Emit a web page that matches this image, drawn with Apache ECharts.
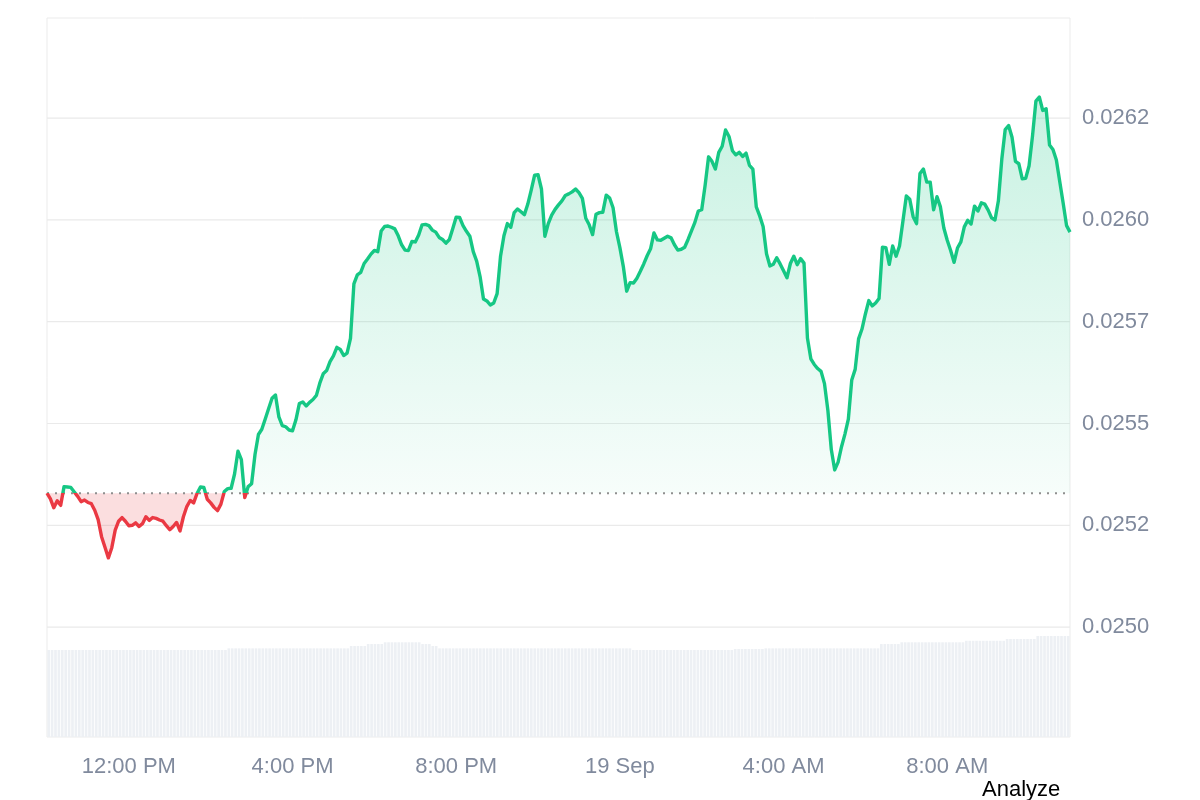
<!DOCTYPE html>
<html>
<head>
<meta charset="utf-8">
<script src="https://cdn.jsdelivr.net/npm/echarts@6/dist/echarts.min.js"></script>
<style>
  html, body { margin: 0; padding: 0; background: #ffffff; }
  #chart { width: 1200px; height: 800px; }
</style>
</head>
<body>
<div id="chart"></div>
<script>
// ---- data (5-minute steps, 18 Sep 10:00 -> 19 Sep 11:00) ----
const startMinutes = 600;
const stepMinutes = 5;

const prices = [
  0.025329,0.025315,0.025293,0.025310,0.025299,0.025345,0.025344,0.025343,0.025332,0.025321,
  0.025308,0.025312,0.025306,0.025303,0.025287,0.025264,0.025222,0.025196,0.025170,0.025195,
  0.025238,0.025260,0.025269,0.025260,0.025249,0.025250,0.025256,0.025247,0.025254,0.025271,
  0.025262,0.025269,0.025267,0.025263,0.025260,0.025249,0.025239,0.025247,0.025257,0.025236,
  0.025271,0.025296,0.025311,0.025305,0.025328,0.025344,0.025343,0.025314,0.025305,0.025294,
  0.025286,0.025302,0.025333,0.025340,0.025341,0.025376,0.025432,0.025411,0.025318,0.025345,
  0.025352,0.025424,0.025473,0.025486,0.025511,0.025537,0.025562,0.025570,0.025516,0.025495,
  0.025492,0.025484,0.025482,0.025509,0.025549,0.025553,0.025543,0.025552,0.025559,0.025569,
  0.025599,0.025622,0.025630,0.025652,0.025666,0.025687,0.025682,0.025667,0.025673,0.025709,
  0.025843,0.025865,0.025871,0.025893,0.025904,0.025916,0.025925,0.025922,0.025973,0.025984,
  0.025985,0.025982,0.025978,0.025961,0.025939,0.025926,0.025925,0.025947,0.025946,0.025963,
  0.025988,0.025989,0.025986,0.025975,0.025970,0.025957,0.025952,0.025943,0.025952,0.025979,
  0.026007,0.026006,0.025986,0.025972,0.025960,0.025922,0.025899,0.025861,0.025806,0.025801,
  0.025791,0.025796,0.025819,0.025911,0.025961,0.025991,0.025982,0.026018,0.026027,0.026020,
  0.026013,0.026039,0.026073,0.026110,0.026111,0.026076,0.025960,0.025991,0.026012,0.026026,
  0.026037,0.026047,0.026060,0.026064,0.026069,0.026076,0.026067,0.026053,0.026004,0.025988,
  0.025964,0.026014,0.026018,0.026019,0.026061,0.026054,0.026030,0.025971,0.025932,0.025886,
  0.025825,0.025846,0.025845,0.025857,0.025874,0.025892,0.025912,0.025929,0.025968,0.025951,
  0.025950,0.025955,0.025960,0.025956,0.025939,0.025926,0.025928,0.025933,0.025952,0.025973,
  0.025994,0.026022,0.026025,0.026085,0.026155,0.026144,0.026125,0.026166,0.026181,0.026221,
  0.026205,0.026170,0.026160,0.026166,0.026156,0.026164,0.026134,0.026125,0.026032,0.026010,
  0.025984,0.025917,0.025887,0.025891,0.025907,0.025892,0.025875,0.025858,0.025893,0.025911,
  0.025890,0.025905,0.025894,0.025710,0.025659,0.025645,0.025635,0.025628,0.025598,0.025532,
  0.025436,0.025386,0.025405,0.025443,0.025474,0.025511,0.025607,0.025633,0.025708,0.025732,
  0.025769,0.025802,0.025789,0.025796,0.025807,0.025933,0.025932,0.025891,0.025936,0.025911,
  0.025936,0.025997,0.026059,0.026051,0.026008,0.025991,0.026114,0.026125,0.026093,0.026093,
  0.026025,0.026057,0.026032,0.025980,0.025950,0.025925,0.025896,0.025931,0.025946,0.025983,
  0.025999,0.025990,0.026034,0.026022,0.026042,0.026039,0.026024,0.026005,0.026000,0.026047,
  0.026149,0.026222,0.026232,0.026203,0.026144,0.026138,0.026101,0.026102,0.026133,0.026206,
  0.026292,0.026302,0.026269,0.026273,0.026184,0.026173,0.026147,0.026094,0.026041,0.025986,
  0.025970
];

const volumes = [
  79.1,79.1,79.1,79.1,79.1,79.1,79.1,79.1,79.1,79.1,79.1,79.1,79.1,79.1,79.1,79.1,79.1,79.1,79.1,79.1,
  79.1,79.1,79.1,79.1,79.1,79.1,79.1,79.1,79.1,79.1,79.1,79.1,79.1,79.1,79.1,79.1,79.1,79.1,79.1,79.1,
  79.1,79.1,79.1,79.1,79.1,79.1,79.1,79.1,79.1,79.1,79.1,79.1,79.1,80.6,80.6,80.6,80.6,80.6,80.6,80.6,
  80.6,80.6,80.6,80.6,80.6,80.6,80.6,80.6,80.6,80.6,80.6,80.6,80.6,80.6,80.6,80.6,80.6,80.6,80.6,80.6,
  80.6,80.6,80.6,80.6,80.6,80.6,80.6,80.6,80.6,82.7,82.7,82.7,82.7,82.7,84.5,84.5,84.5,84.5,84.5,86.1,
  86.1,86.1,86.1,86.1,86.1,86.1,86.1,86.1,86.1,86.1,84.5,84.5,84.5,82.7,82.7,80.6,80.6,80.6,80.6,80.6,
  80.6,80.6,80.6,80.6,80.6,80.6,80.6,80.6,80.6,80.6,80.6,80.6,80.6,80.6,80.6,80.6,80.6,80.6,80.6,80.6,
  80.6,80.6,80.6,80.6,80.6,80.6,80.6,80.6,80.6,80.6,80.6,80.6,80.6,80.6,80.6,80.6,80.6,80.6,80.6,80.6,
  80.6,80.6,80.6,80.6,80.6,80.6,80.6,80.6,80.6,80.6,80.6,80.6,79.1,79.1,79.1,79.1,79.1,79.1,79.1,79.1,
  79.1,79.1,79.1,79.1,79.1,79.1,79.1,79.1,79.1,79.1,79.1,79.1,79.1,79.1,79.1,79.1,79.1,79.1,79.1,79.1,
  79.1,79.1,80.0,80.0,80.0,80.0,80.0,80.0,80.0,80.0,80.0,80.6,80.6,80.6,80.6,80.6,80.6,80.6,80.6,80.6,
  80.6,80.6,80.6,80.6,80.6,80.6,80.6,80.6,80.6,80.6,80.6,80.6,80.6,80.6,80.6,80.6,80.6,80.6,80.6,80.6,
  80.6,80.6,80.6,80.6,80.6,84.5,84.5,84.5,84.5,84.5,84.5,86.1,86.1,86.1,86.1,86.1,86.1,86.1,86.1,86.1,
  86.1,86.1,86.1,86.1,86.1,86.1,86.1,86.1,86.1,86.1,87.5,87.5,87.5,87.5,87.5,87.5,87.5,87.5,87.5,87.5,
  87.5,87.5,89.1,89.1,89.1,89.1,89.1,89.1,89.1,89.1,89.1,91.8,91.8,91.8,91.8,91.8,91.8,91.8,91.8,91.8,
  91.8
];

const baseline = 0.025329;
const yTicks = [0.0250, 0.02525, 0.0255, 0.02575, 0.0260, 0.02625];
const xTickLabels = { '18 12:00': '12:00 PM', '18 16:00': '4:00 PM', '18 20:00': '8:00 PM', '19 00:00': '19 Sep', '19 04:00': '4:00 AM', '19 08:00': '8:00 AM' };

// ---- build ----
const categories = prices.map((_, i) => {
  const total = startMinutes + i * stepMinutes;
  const day = 18 + Math.floor(total / 1440);
  const m = total % 1440;
  const hh = String(Math.floor(m / 60)).padStart(2, '0');
  const mm = String(m % 60).padStart(2, '0');
  return day + ' ' + hh + ':' + mm;
});
const greenPart = prices.map(v => Math.max(v, baseline));
const redPart = prices.map(v => Math.min(v, baseline));
const firstIdx = 0;
const lastIdx = categories.length - 1;

const GREEN = '#16c784';
const RED = '#ea3943';
const FONT = 'Liberation Sans, Arial, sans-serif';

const gridLineSeries = yTicks.map(v => ({
  type: 'line', xAxisIndex: 0, yAxisIndex: 0, silent: true, symbol: 'none', z: 1,
  data: [[firstIdx, v], [lastIdx, v]],
  lineStyle: { color: '#eaeaea', width: 1.2 }
}));

const chart = echarts.init(document.getElementById('chart'), null, { renderer: 'canvas' });
chart.setOption({
  animation: false,
  backgroundColor: '#ffffff',
  grid: [
    { left: 47, right: 130, top: 18, bottom: 63, show: true, borderColor: '#ebebeb', borderWidth: 1, backgroundColor: 'transparent' },
    { left: 47, right: 130, top: 627, bottom: 63 }
  ],
  xAxis: [
    {
      type: 'category', gridIndex: 0, data: categories, boundaryGap: false,
      axisLine: { show: false }, axisTick: { show: false }, splitLine: { show: false },
      axisLabel: {
        interval: (idx, val) => Object.prototype.hasOwnProperty.call(xTickLabels, val),
        formatter: val => xTickLabels[val] || '',
        color: '#808a9d', fontSize: 22, fontFamily: FONT, margin: 19
      }
    },
    { type: 'category', gridIndex: 1, data: categories, boundaryGap: true, show: false }
  ],
  yAxis: [
    {
      type: 'value', gridIndex: 0, position: 'right', min: 0.02473, max: 0.026496,
      axisLine: { show: false }, axisTick: { show: false }, splitLine: { show: false },
      axisLabel: {
        customValues: yTicks,
        formatter: v => (Math.floor(v * 10000 + 1e-6) / 10000).toFixed(4),
        color: '#808a9d', fontSize: 22, fontFamily: FONT, margin: 12
      }
    },
    { type: 'value', gridIndex: 1, min: 0, max: 100, show: false }
  ],
  series: [
    {
      type: 'bar', xAxisIndex: 1, yAxisIndex: 1, data: volumes, silent: true,
      barCategoryGap: '22%', itemStyle: { color: '#edf0f4' }, z: 1
    },
    {
      type: 'line', xAxisIndex: 0, yAxisIndex: 0, data: greenPart, symbol: 'none', silent: true,
      lineStyle: { width: 0 }, z: 2,
      areaStyle: {
        origin: baseline,
        color: { type: 'linear', x: 0, y: 0, x2: 0, y2: 1, colorStops: [
          { offset: 0, color: 'rgba(22,199,132,0.34)' },
          { offset: 1, color: 'rgba(22,199,132,0.05)' } ] }
      }
    },
    {
      type: 'line', xAxisIndex: 0, yAxisIndex: 0, data: redPart, symbol: 'none', silent: true,
      lineStyle: { width: 0 }, z: 2,
      areaStyle: { origin: baseline, color: 'rgba(234,57,67,0.24)' }
    },
    {
      type: 'line', xAxisIndex: 0, yAxisIndex: 0, data: [[firstIdx, baseline], [lastIdx, baseline]],
      symbol: 'none', silent: true, z: 3,
      lineStyle: { color: '#8f8f8f', type: [2, 6], width: 2 }
    },
    {
      type: 'line', xAxisIndex: 0, yAxisIndex: 0, data: prices, symbol: 'none', silent: true,
      lineStyle: { width: 3.4, color: GREEN, join: 'round' }, z: 5
    }
  ].concat(gridLineSeries),
  graphic: [
    { type: 'text', left: 982, top: 779, style: { text: 'Analyze', fill: '#000000', font: '22px ' + FONT } }
  ]
});

// colour the price line red below the baseline, green above it
const basePx = chart.convertToPixel({ yAxisIndex: 0 }, baseline);
const H = 800;
chart.setOption({
  series: [{}, {}, {}, {}, {
    lineStyle: {
      color: { type: 'linear', global: true, x: 0, y: 0, x2: 0, y2: H, colorStops: [
        { offset: 0, color: GREEN },
        { offset: basePx / H, color: GREEN },
        { offset: basePx / H, color: RED },
        { offset: 1, color: RED } ] }
    }
  }]
});
</script>
</body>
</html>
